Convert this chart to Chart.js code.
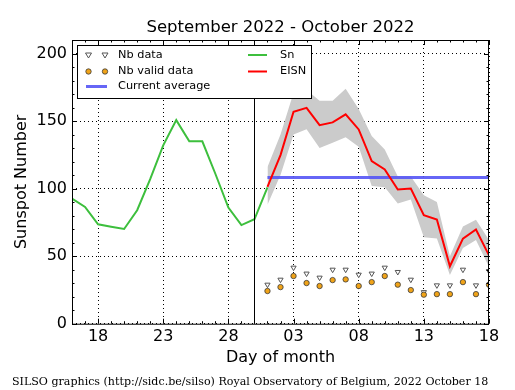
<!DOCTYPE html>
<html><head><meta charset="utf-8">
<script src="https://cdn.jsdelivr.net/npm/chart.js@4/dist/chart.umd.min.js"></script>
<style>html,body{margin:0;padding:0;background:#fff;}canvas{display:block;}</style>
</head><body>
<canvas id="c" width="515" height="390"></canvas>
<script>
// x values: days counted from 2022-09-16
const snDays = [0,1,2,3,4,5,6,7,8,9,10,11,12,13,14,15];
const snValues = [92.7,86.4,73.6,71.8,70.1,84,107,132,150.7,135,135,111,86,73,77.3,101];
const eisnDays = [15,16,17,18,19,20,21,22,23,24,25,26,27,28,29,30,31,32];
const eisnValues = [101.3,124.8,156.9,159.8,147,149,155,143.8,120.3,114.2,99.3,100,80.3,77.1,42.5,63,69.7,50.6];
const eisnUpper = [116,140,171,173,165,165,174,159,139,129,109,109,95,90,50,72,77,62];
const eisnLower = [88,110,140,144,130,134,138,131,102,101,89,92,64,63,36,56,62,42];
const nbData = [28.9,32.6,41.5,37.1,34.1,40,40,36.3,37.1,41.5,38.3,32.6,23.4,28.4,28.4,40,28.4,39];
const nbValidData = [24.2,27.1,35.3,30.1,27.9,32.3,32.8,27.9,30.8,35.3,28.9,24.9,21.5,21.9,21.9,30.8,21.9,28.9];
const averageDays = [15,32];
const currentAverage = 108.2;
const xTickDays = [2,7,12,17,22,27,32];
const xTickLabels = ['18','23','28','03','08','13','18'];
const yTickValues = [0,50,100,150,200];
const separatorDay = 14;

const pts = (xs, ys) => xs.map((x, i) => ({x: x, y: ys[i]}));

const COL = {
  sn: '#3dbf3d', eisn: '#ff0000', avg: 'rgba(85,85,245,0.9)', band: '#cbcbcb',
  triEdge: '#555555', triFill: '#ffffff', dotFill: '#f0a318', dotEdge: '#3a3a3a'
};

Chart.defaults.font.family = 'DejaVu Sans';
Chart.defaults.color = '#000';

const decor = {
  id: 'decor',
  afterDatasetsDraw(chart) {
    const {ctx, chartArea: a, scales: {x, y}} = chart;
    ctx.save();
    ctx.strokeStyle = '#000';
    ctx.lineWidth = 1;
    ctx.setLineDash([]);
    const sx = Math.round(x.getPixelForValue(separatorDay)) + 0.5;
    ctx.beginPath(); ctx.moveTo(sx, a.top); ctx.lineTo(sx, a.bottom); ctx.stroke();
    ctx.beginPath();
    for (let d = Math.ceil(x.min); d <= x.max; d++) {
      const px = Math.round(x.getPixelForValue(d)) + 0.5;
      const len = xTickDays.includes(d) ? 5 : 2.5;
      ctx.moveTo(px, a.bottom); ctx.lineTo(px, a.bottom - len);
      ctx.moveTo(px, a.top); ctx.lineTo(px, a.top + len);
    }
    for (let v = y.min; v <= y.max; v += 10) {
      const py = Math.round(y.getPixelForValue(v)) + 0.5;
      const len = yTickValues.includes(v) ? 5 : 2.5;
      ctx.moveTo(a.left, py); ctx.lineTo(a.left + len, py);
      ctx.moveTo(a.right, py); ctx.lineTo(a.right - len, py);
    }
    ctx.stroke();
    ctx.strokeRect(a.left + 0.5, a.top + 0.5, a.right - a.left - 1, a.bottom - a.top);
    ctx.restore();
  },
  afterDraw(chart) {
    const {ctx, chartArea: a} = chart;
    ctx.save();
    const bx = a.left + 5.5, by = a.top + 5.5, bw = 234, bh = 53;
    ctx.fillStyle = '#fff';
    ctx.fillRect(bx, by, bw, bh);
    ctx.strokeStyle = '#000'; ctx.lineWidth = 1;
    ctx.strokeRect(bx, by, bw, bh);
    const r1 = by + 9.5, r2 = by + 26, r3 = by + 41;
    const m1 = bx + 11, m2 = bx + 27.5, tx = bx + 40.5;
    const tri = (cx, cy) => {
      ctx.beginPath();
      ctx.moveTo(cx - 3, cy - 2); ctx.lineTo(cx + 3, cy - 2); ctx.lineTo(cx, cy + 3); ctx.closePath();
      ctx.fillStyle = COL.triFill; ctx.fill();
      ctx.strokeStyle = COL.triEdge; ctx.lineWidth = 1; ctx.stroke();
    };
    const dot = (cx, cy) => {
      ctx.beginPath(); ctx.arc(cx, cy, 2.7, 0, Math.PI * 2);
      ctx.fillStyle = COL.dotFill; ctx.fill();
      ctx.strokeStyle = COL.dotEdge; ctx.lineWidth = 0.8; ctx.stroke();
    };
    tri(m1, r1); tri(m2, r1); dot(m1, r2); dot(m2, r2);
    const seg = (x0, x1, yy, c, w) => {
      ctx.beginPath(); ctx.moveTo(x0, yy); ctx.lineTo(x1, yy);
      ctx.strokeStyle = c; ctx.lineWidth = w; ctx.stroke();
    };
    seg(bx + 8.5, bx + 29.5, r3, COL.avg, 3);
    seg(bx + 170.5, bx + 189.5, r1, COL.sn, 2);
    seg(bx + 170.5, bx + 189.5, r2, COL.eisn, 2);
    ctx.fillStyle = '#000';
    ctx.font = '11.3px "DejaVu Sans"';
    ctx.textBaseline = 'middle';
    ctx.textAlign = 'left';
    ctx.fillText('Nb data', tx, r1);
    ctx.fillText('Nb valid data', tx, r2);
    ctx.fillText('Current average', tx, r3);
    ctx.fillText('Sn', bx + 202.5, r1);
    ctx.fillText('EISN', bx + 202.5, r2);
    ctx.restore();
  }
};

new Chart(document.getElementById('c'), {
  type: 'line',
  data: {
    datasets: [
      {label: 'EISN upper', order: 10, data: pts(eisnDays, eisnUpper), borderWidth: 0, pointRadius: 0, fill: '+1', backgroundColor: COL.band, borderColor: 'rgba(0,0,0,0)'},
      {label: 'EISN lower', order: 9, data: pts(eisnDays, eisnLower), borderWidth: 0, pointRadius: 0, fill: false, borderColor: 'rgba(0,0,0,0)'},
      {label: 'Current average', order: 5, data: pts(averageDays, averageDays.map(() => currentAverage)), borderColor: COL.avg, borderWidth: 3, pointRadius: 0, fill: false},
      {label: 'Sn', order: 4, data: pts(snDays, snValues), borderColor: COL.sn, borderWidth: 2, pointRadius: 0, fill: false},
      {label: 'EISN', order: 3, data: pts(eisnDays, eisnValues), borderColor: COL.eisn, borderWidth: 2, pointRadius: 0, fill: false},
      {label: 'Nb data', order: 2, data: pts(eisnDays, nbData), showLine: false, pointStyle: 'triangle', rotation: 180, pointRadius: 3, backgroundColor: COL.triFill, borderColor: COL.triEdge, borderWidth: 1},
      {label: 'Nb valid data', order: 1, data: pts(eisnDays, nbValidData), showLine: false, pointStyle: 'circle', pointRadius: 2.7, backgroundColor: COL.dotFill, borderColor: COL.dotEdge, borderWidth: 0.8}
    ]
  },
  options: {
    responsive: false, animation: false, devicePixelRatio: 1,
    layout: {padding: {left: 12, right: 26, top: 0, bottom: 0}},
    elements: {line: {tension: 0}},
    plugins: {
      legend: {display: false}, tooltip: {enabled: false},
      title: {display: true, text: 'September 2022 - October 2022', fullSize: false, color: '#000',
        font: {family: 'DejaVu Sans', size: 16.5, weight: 'normal'}, padding: {top: 18, bottom: 2.2}},
      subtitle: {display: true, position: 'bottom', align: 'start', color: '#000',
        text: 'SILSO graphics (http://sidc.be/silso) Royal Observatory of Belgium, 2022 October 18',
        font: {family: 'DejaVu Serif', size: 11.07, weight: 'normal'}, padding: {top: 0, bottom: 1.5}}
    },
    scales: {
      x: {
        type: 'linear', min: 0, max: 32,
        afterBuildTicks: s => { s.ticks = xTickDays.map(v => ({value: v})); },
        afterFit: s => { s.height = 51.5; },
        ticks: {callback: (v, i) => xTickLabels[i], color: '#000', font: {size: 16}, padding: 3.5, maxRotation: 0, autoSkip: false},
        grid: {color: '#000', lineWidth: 1, drawTicks: false},
        border: {display: false, dash: [1, 3]},
        title: {display: true, text: 'Day of month', color: '#000', font: {size: 16}, padding: {top: 0, bottom: 7.5}}
      },
      y: {
        type: 'linear', min: 0, max: 210,
        afterBuildTicks: s => { s.ticks = yTickValues.map(v => ({value: v})); },
        afterFit: s => { s.width = 60; },
        ticks: {color: '#000', font: {size: 16}, padding: 5},
        grid: {color: '#000', lineWidth: 1, drawTicks: false},
        border: {display: false, dash: [1, 3]},
        title: {display: true, text: 'Sunspot Number', color: '#000', font: {size: 16}, padding: {top: 0.4, bottom: 0}}
      }
    }
  },
  plugins: [decor]
});
</script>
</body></html>
